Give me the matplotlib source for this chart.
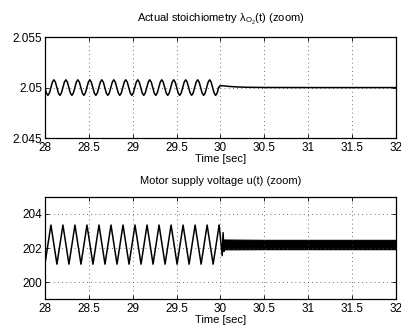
import numpy as np
import matplotlib
matplotlib.use('Agg')
from matplotlib import pyplot as plt

plt.rcParams['font.family'] = ['Liberation Sans', 'DejaVu Sans']
plt.rcParams['mathtext.fontset'] = 'custom'
plt.rcParams['mathtext.rm'] = 'Liberation Sans'
plt.rcParams['mathtext.it'] = 'Liberation Sans'

# --- top panel: stoichiometry, one oscillation cycle
lam_cycle = [2.0500, 2.04946, 2.04923, 2.04946, 2.0500, 2.05054, 2.05077, 2.05054]
lam_period = 0.1365
lam_cycles = 14.5
# settling after the controller switch at t = 30
lam_t_after = [29.979, 29.99, 30.0, 30.05, 30.1, 30.2, 30.3, 30.5, 31.0, 32.0]
lam_after = [2.0500, 2.05014, 2.05019, 2.05016, 2.05011, 2.05006, 2.05003, 2.05001, 2.0500, 2.0500]

# --- bottom panel: motor voltage, triangle-like cycle
u_cycle = [201.05, 203.35]
u_period = 0.1369
u_cycles = 14.6
u_t_after = [29.985, 30.02, 30.03, 30.04, 30.05]
u_after = [203.35, 201.55, 202.9, 201.8, 202.45]
# dense high-frequency band after t = 30 (envelope)
band_t = [30.05, 30.5, 31.0, 31.5, 32.0]
band_lo = [201.92, 201.93, 201.93, 201.93, 201.93]
band_hi = [202.5, 202.48, 202.48, 202.48, 202.48]


def tiled(cycle, period, n_cycles, t0=28.0):
    pts = int(round(n_cycles * len(cycle))) + 1
    vals = np.array(cycle * (pts // len(cycle) + 1))[:pts]
    t = t0 + np.arange(pts) * period / len(cycle)
    return t, vals


def style(ax, xlabel):
    ax.set_xlim(28, 32)
    ax.set_xticks([28, 28.5, 29, 29.5, 30, 30.5, 31, 31.5, 32])
    ax.set_xticklabels(['28', '28.5', '29', '29.5', '30', '30.5', '31', '31.5', '32'])
    ax.grid(True, color='0.25', linestyle=(0, (1, 4)), linewidth=0.6)
    ax.tick_params(direction='in', top=True, right=True, labelsize=8.5, length=3,
                   width=0.6)
    ax.tick_params(axis='x', pad=3)
    ax.tick_params(axis='y', pad=2)
    for s in ax.spines.values():
        s.set_linewidth(0.9)
    ax.set_xlabel(xlabel, fontsize=8, labelpad=0)


fig = plt.figure(figsize=(4.01, 3.28), dpi=100)

ax1 = fig.add_axes([0.112, 0.579, 0.8755, 0.308])
t, v = tiled(lam_cycle, lam_period, lam_cycles)
ax1.plot(list(t) + lam_t_after, list(v) + lam_after, color='black', linewidth=1.1)
ax1.set_ylim(2.045, 2.055)
ax1.set_yticks([2.045, 2.05, 2.055])
ax1.set_yticklabels(['2.045', '2.05', '2.055'])
style(ax1, 'Time [sec]')
ax1.set_title(r'Actual stoichiometry $\mathregular{\lambda_{O_2}}$(t) (zoom)',
              fontsize=8, pad=11)

ax2 = fig.add_axes([0.112, 0.0884, 0.8755, 0.311])
t, v = tiled(u_cycle, u_period, u_cycles)
ax2.plot(list(t) + u_t_after, list(v) + u_after, color='black', linewidth=1.1)
ax2.fill_between(band_t, band_lo, band_hi, color='black', linewidth=0.8)
ax2.set_ylim(199, 205)
ax2.set_yticks([200, 202, 204])
style(ax2, 'Time [sec]')
ax2.set_title('Motor supply voltage u(t) (zoom)', fontsize=8, pad=9)

fig.savefig('out.png', dpi=100)
